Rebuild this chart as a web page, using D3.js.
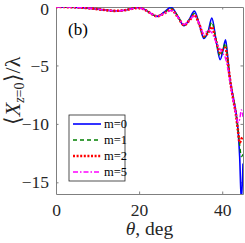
<!DOCTYPE html>
<meta charset="utf-8">
<style>
  body { margin: 0; background: #fff; }
</style>
<div id="chart"></div>
<script src="https://d3js.org/d3.v7.min.js"></script>
<script>

// incidence angle, deg
var theta = [0, 3, 6, 9, 12, 14, 16, 18, 19.6, 21, 22.6, 24.3, 26, 27.7, 29.4, 30.8, 32.1, 33.3, 34.5, 35.6,
             36.6, 37.5, 38.5, 39.5, 40.2, 40.8, 41.3, 41.8, 42.3, 42.8, 43.3, 43.8, 44.2, 44.6, 45];

// <X_z=0>/lambda for each m
var m0 = [0, -0.01, -0.05, -0.14, -0.27, -0.33, -0.3, -0.15, -0.04, -0.15, -0.5, -0.8, -0.45, -0.02, -0.85, -1.6, -1.05, -0.35, -1.5, -2.7,
          -2.1, -0.95, -2.8, -4.5, -3.7, -2.8, -4.2, -6.0, -7.1, -8.0, -9.0, -10.5, -12.8, -16.6, -13.4];
var m1 = [0, -0.01, -0.05, -0.14, -0.27, -0.33, -0.3, -0.16, -0.06, -0.16, -0.5, -0.8, -0.5, -0.12, -0.85, -1.55, -1.1, -0.55, -1.5, -2.6,
          -2.1, -1.3, -2.8, -4.2, -3.6, -3.1, -4.4, -6.0, -7.1, -8.1, -9.1, -10.5, -11.8, -12.8, -12.6];
var m2 = [0, -0.01, -0.05, -0.14, -0.27, -0.33, -0.3, -0.17, -0.08, -0.17, -0.5, -0.8, -0.55, -0.25, -0.9, -1.55, -1.15, -0.7, -1.5, -2.5,
          -2.2, -1.7, -2.9, -3.9, -3.6, -3.5, -4.6, -6.0, -7.2, -8.2, -9.2, -10.6, -11.6, -11.3, -11.1];
var m5 = [0, -0.01, -0.05, -0.14, -0.27, -0.33, -0.3, -0.17, -0.09, -0.18, -0.5, -0.8, -0.55, -0.3, -0.9, -1.5, -1.15, -0.75, -1.45, -2.3,
          -2.0, -2.2, -3.0, -3.6, -4.0, -4.4, -5.2, -6.2, -7.3, -8.3, -9.2, -9.9, -9.6, -8.8, -9.4];

var labels = ["m=0", "m=1", "m=2", "m=5"];
var xTicks = [0, 20, 40];
var yTicks = [0, -5, -10, -15];

var series = [
  {name: labels[0], values: m0, color: "#0000ff", width: 1.6, dash: null},
  {name: labels[1], values: m1, color: "#008000", width: 1.4, dash: "4,3"},
  {name: labels[2], values: m2, color: "#ff0000", width: 2.6, dash: "2,1.6"},
  {name: labels[3], values: m5, color: "#ff00ff", width: 1.4, dash: "5,2,1.5,2"}
];

var W = 245, H = 243;
var margin = {top: 7, right: 2, bottom: 49, left: 56};
var width = W - margin.left - margin.right,
    height = H - margin.top - margin.bottom;
var serif = "Liberation Serif, Times New Roman, serif";

var svg = d3.select("#chart").append("svg")
    .attr("width", W)
    .attr("height", H)
    .attr("font-family", serif);

var g = svg.append("g")
    .attr("transform", "translate(" + margin.left + "," + margin.top + ")");

var x = d3.scaleLinear().domain([0, 45]).range([0, width]);
var y = d3.scaleLinear().domain([-16, 0]).range([height, 0]);

g.append("clipPath").attr("id", "clip")
  .append("rect").attr("width", width).attr("height", height);

// axes (ticks inside, mirrored on top / right)
var axisColor = "#7f7f7f", textColor = "#262626";

g.append("g")
    .attr("transform", "translate(0," + height + ")")
    .call(d3.axisBottom(x).tickValues(xTicks).tickSizeInner(-2.5).tickSizeOuter(0).tickPadding(10))
    .call(styleAxis);
g.append("g")
    .call(d3.axisTop(x).tickValues(xTicks).tickSizeInner(-2.5).tickSizeOuter(0).tickFormat(""))
    .call(styleAxis);
var yAxis = g.append("g")
    .call(d3.axisLeft(y).tickValues(yTicks).tickSizeInner(-2.5).tickSizeOuter(0).tickPadding(7))
    .call(styleAxis);
g.append("g")
    .attr("transform", "translate(" + width + ",0)")
    .call(d3.axisRight(y).tickValues(yTicks).tickSizeInner(-2.5).tickSizeOuter(0).tickFormat(""))
    .call(styleAxis);

function styleAxis(sel) {
  sel.attr("font-family", serif).attr("font-size", 17.5);
  sel.select(".domain").attr("stroke", axisColor).attr("stroke-width", 1);
  sel.selectAll(".tick line").attr("stroke", axisColor);
  sel.selectAll(".tick text").attr("fill", textColor);
}
// keep the top "0" inside the picture
yAxis.selectAll(".tick text").filter(function(d) { return d === 0; }).attr("dy", "0.4em");

// curves
var line = d3.line()
    .x(function(d, i) { return x(theta[i]); })
    .y(function(d) { return y(d); })
    .curve(d3.curveMonotoneX);

var plot = g.append("g").attr("clip-path", "url(#clip)");
series.forEach(function(s) {
  plot.append("path")
    .attr("d", line(s.values))
    .attr("fill", "none")
    .attr("stroke", s.color)
    .attr("stroke-width", s.width)
    .attr("stroke-dasharray", s.dash);
});

// panel label
g.append("text")
  .attr("x", 12)
  .attr("y", 28)
  .attr("fill", "#000")
  .attr("font-size", 17)
  .text("(b)");

// legend
var legend = g.append("g").attr("transform", "translate(13,108)");
legend.append("rect")
  .attr("width", 56)
  .attr("height", 66)
  .attr("fill", "#fff")
  .attr("stroke", "#262626")
  .attr("stroke-width", 0.8);

var item = legend.selectAll("g.item")
  .data(series)
  .enter().append("g")
    .attr("transform", function(d, i) { return "translate(0," + (9 + i * 16) + ")"; });
item.append("line")
  .attr("x1", 4).attr("x2", 32)
  .attr("stroke", function(d) { return d.color; })
  .attr("stroke-width", function(d) { return d.width; })
  .attr("stroke-dasharray", function(d) { return d.dash; });
item.append("text")
  .attr("x", 35)
  .attr("dy", "0.35em")
  .attr("fill", "#000")
  .attr("font-size", 12.5)
  .text(function(d) { return d.name; });

// axis titles
var xl = svg.append("text")
  .attr("x", margin.left + width / 2)
  .attr("y", 235)
  .attr("text-anchor", "middle")
  .attr("fill", textColor)
  .attr("font-size", 19.5);
xl.append("tspan").attr("font-style", "italic").text("θ");
xl.append("tspan").text(", deg");

var yl = svg.append("text")
  .attr("transform", "translate(20,91) rotate(-90)")
  .attr("text-anchor", "middle")
  .attr("fill", textColor)
  .attr("font-size", 22);
yl.append("tspan").text("⟨");
yl.append("tspan").attr("font-style", "italic").text("X");
yl.append("tspan").attr("dy", 4).attr("font-size", 14).attr("font-style", "italic").text("z");
yl.append("tspan").attr("font-size", 14).text("=0");
yl.append("tspan").attr("dy", -4).text("⟩/λ");

</script>
